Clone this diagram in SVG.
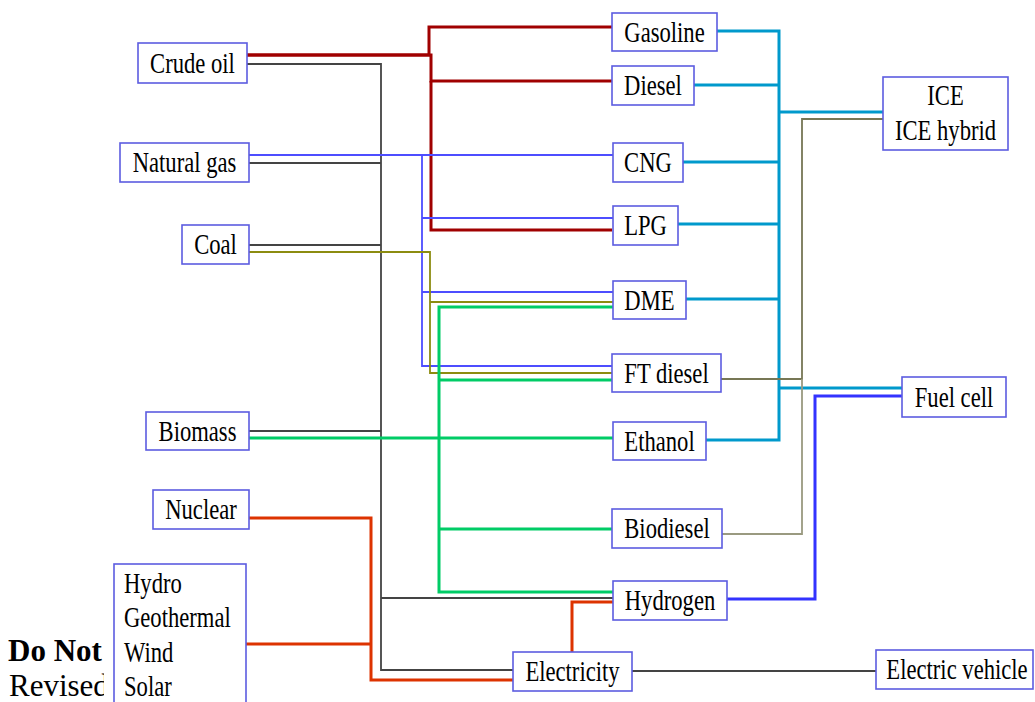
<svg xmlns="http://www.w3.org/2000/svg" width="1035" height="702" viewBox="0 0 1035 702">
<style>
.box{fill:#fff;stroke:#5c5ce0;stroke-width:1.6}
.t{font-family:"Liberation Serif","Times New Roman",serif;font-size:29px;text-anchor:middle;fill:#000}
.tl{font-family:"Liberation Serif","Times New Roman",serif;font-size:29px;fill:#000}
.w{font-family:"Liberation Serif","Times New Roman",serif;font-size:31px;fill:#000}
.c{fill:none;stroke-linejoin:miter}
.red{stroke:#a00000;stroke-width:3}
.blk{stroke:#444;stroke-width:1.8}
.ng{stroke:#4d4dff;stroke-width:1.8}
.ol{stroke:#8c8c10;stroke-width:1.8}
.gr{stroke:#00cc66;stroke-width:3}
.cy{stroke:#0099cc;stroke-width:3}
.og{stroke:#777755;stroke-width:1.8}
.og2{stroke:#9a9a80;stroke-width:1.8}
.hb{stroke:#3333ff;stroke-width:3}
.or{stroke:#dd3300;stroke-width:3}
</style>
<rect width="1035" height="702" fill="#fff"/>
<g id="connectors" class="c">
<path class="c blk" d="M247,64 H381 V670 H513"/>
<path class="c blk" d="M249,163 H381 M249,245 H381 M249,431 H381 M381,598 H613 M632,671 H876"/>
<path class="c red" d="M247,55 H429 V27 H612"/>
<path class="c red" d="M247,55 H431 V81 H612"/>
<path class="c red" d="M431,81 V230 H612"/>
<path class="c ng" d="M249,155 H613"/>
<path class="c ng" d="M422,155 V366 H612 M422,218 H613 M422,292 H613"/>
<path class="c ol" d="M249,252 H430 V373 H612 M430,302 H613"/>
<path class="c gr" d="M249,438 H613"/>
<path class="c gr" d="M613,307 H439 V592 H613 M439,380 H612 M439,529 H612"/>
<path class="c cy" d="M717,31 H779 V440 H706"/>
<path class="c cy" d="M694,85 H779 M683,162 H779 M678,224 H779 M686,299 H779 M779,112 H883 M779,388 H902"/>
<path class="c og" d="M721,379 H802 V119 H883"/>
<path class="c og2" d="M722,534 H802 V379"/>
<path class="c hb" d="M727,599 H815 V396 H902"/>
<path class="c or" d="M249,518 H371 V680 H513 M246,644 H371"/>
<path class="c or" d="M572,652 V602 H613"/>
</g>
<g id="watermark">
<text class="w" x="8" y="661" font-weight="bold">Do Not</text>
<text class="w" x="9" y="696">Revised</text>
<rect x="104" y="640" width="10" height="62" fill="#fff"/>
</g>
<g id="crude-oil"><rect class="box" x="138" y="43" width="109" height="40"/><text class="t" transform="translate(192.5 73) scale(0.78 1)">Crude oil</text></g>
<g id="natural-gas"><rect class="box" x="120" y="143" width="129" height="39"/><text class="t" transform="translate(184.5 172) scale(0.78 1)">Natural gas</text></g>
<g id="coal"><rect class="box" x="182" y="225" width="67" height="39"/><text class="t" transform="translate(215.5 254) scale(0.78 1)">Coal</text></g>
<g id="biomass"><rect class="box" x="146" y="412" width="103" height="38"/><text class="t" transform="translate(197.5 441) scale(0.78 1)">Biomass</text></g>
<g id="nuclear"><rect class="box" x="153" y="490" width="96" height="39"/><text class="t" transform="translate(201 519) scale(0.78 1)">Nuclear</text></g>
<g id="renewables"><rect class="box" x="114" y="564" width="132" height="150"/>
<text class="tl" transform="translate(124 593) scale(0.78 1)">Hydro</text>
<text class="tl" transform="translate(124 627) scale(0.78 1)">Geothermal</text>
<text class="tl" transform="translate(124 662) scale(0.78 1)">Wind</text>
<text class="tl" transform="translate(124 696) scale(0.78 1)">Solar</text></g>
<g id="gasoline"><rect class="box" x="612" y="13" width="105" height="38"/><text class="t" transform="translate(664.5 42) scale(0.78 1)">Gasoline</text></g>
<g id="diesel"><rect class="box" x="612" y="66" width="82" height="39"/><text class="t" transform="translate(653 95) scale(0.78 1)">Diesel</text></g>
<g id="cng"><rect class="box" x="613" y="143" width="70" height="39"/><text class="t" transform="translate(648 172) scale(0.78 1)">CNG</text></g>
<g id="lpg"><rect class="box" x="613" y="206" width="65" height="39"/><text class="t" transform="translate(645.5 235) scale(0.78 1)">LPG</text></g>
<g id="dme"><rect class="box" x="613" y="281" width="73" height="38"/><text class="t" transform="translate(649.5 310) scale(0.78 1)">DME</text></g>
<g id="ft-diesel"><rect class="box" x="612" y="354" width="109" height="38"/><text class="t" transform="translate(666.5 383) scale(0.78 1)">FT diesel</text></g>
<g id="ethanol"><rect class="box" x="613" y="422" width="93" height="38"/><text class="t" transform="translate(659.5 451) scale(0.78 1)">Ethanol</text></g>
<g id="biodiesel"><rect class="box" x="612" y="509" width="110" height="39"/><text class="t" transform="translate(667 538) scale(0.78 1)">Biodiesel</text></g>
<g id="hydrogen"><rect class="box" x="613" y="581" width="114" height="39"/><text class="t" transform="translate(670 610) scale(0.78 1)">Hydrogen</text></g>
<g id="electricity"><rect class="box" x="513" y="652" width="119" height="39"/><text class="t" transform="translate(572.5 681) scale(0.78 1)">Electricity</text></g>
<g id="ice"><rect class="box" x="883" y="77" width="125" height="73"/>
<text class="t" transform="translate(945.5 105) scale(0.78 1)">ICE</text>
<text class="t" transform="translate(945.5 140) scale(0.78 1)">ICE hybrid</text></g>
<g id="fuel-cell"><rect class="box" x="902" y="377" width="104" height="40"/><text class="t" transform="translate(954 407) scale(0.78 1)">Fuel cell</text></g>
<g id="electric-vehicle"><rect class="box" x="876" y="650" width="157" height="39"/><text class="t" transform="translate(957 679) scale(0.78 1)">Electric vehicle</text></g>
</svg>
